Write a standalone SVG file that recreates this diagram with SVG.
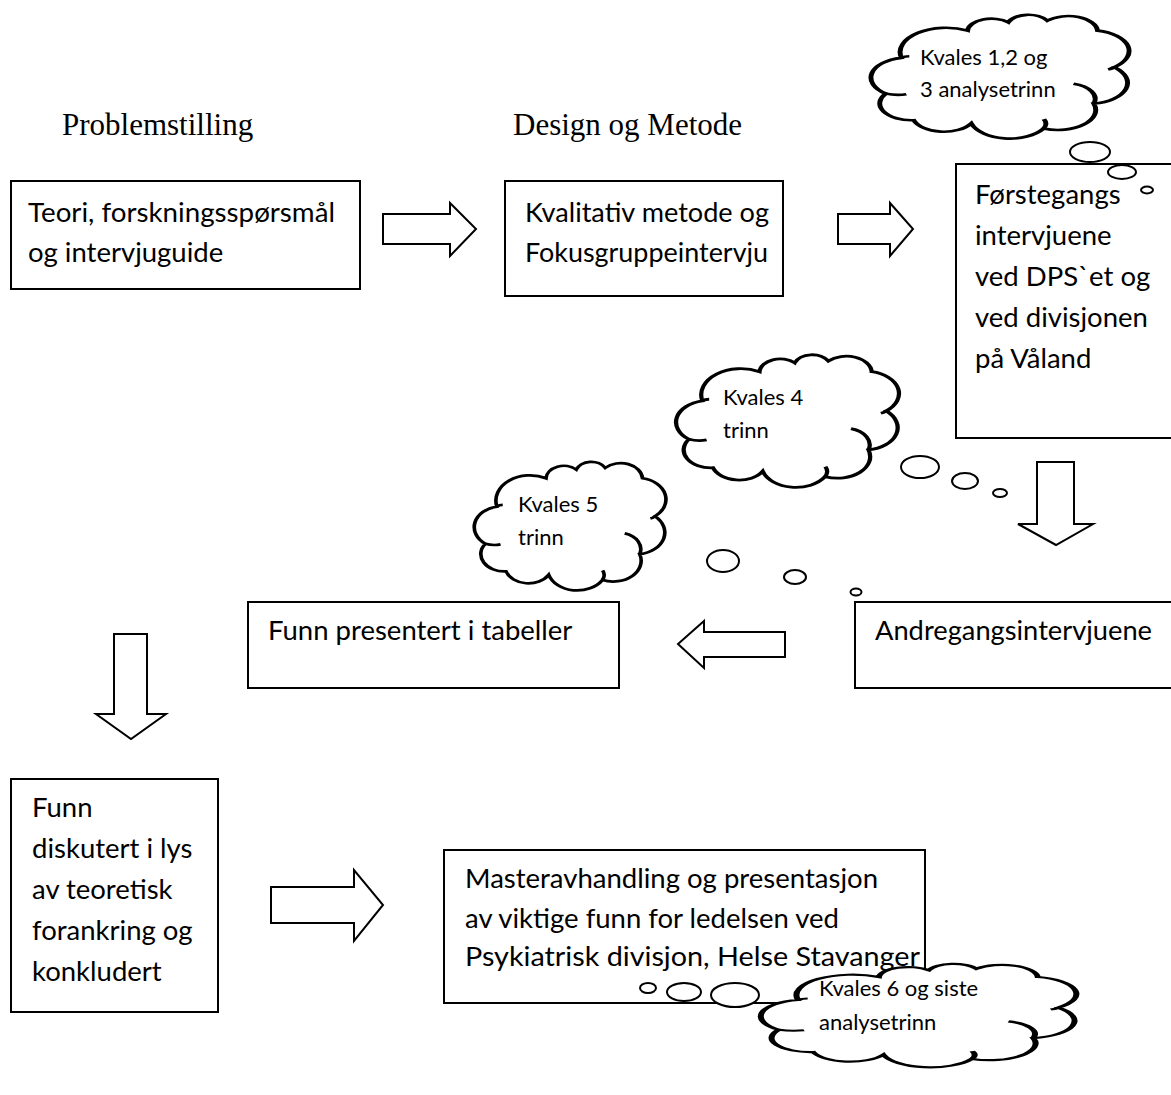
<svg xmlns="http://www.w3.org/2000/svg" width="1171" height="1095" viewBox="0 0 1171 1095">
  <defs>
    <style>
      .box { fill: #fff; stroke: #000; stroke-width: 2; }
      .arrow { fill: #fff; stroke: #000; stroke-width: 2; stroke-linejoin: miter; }
      .cloud { fill: #fff; stroke: #000; stroke-width: 2; }
      .inner { fill: none; stroke: #000; stroke-width: 2; }
      .bubble { fill: #fff; stroke: #000; stroke-width: 2; }
      .t { font-family: Lato, "Open Sans", "Liberation Sans", sans-serif; font-size: 27.5px; fill: #000; }
      .ct { font-family: Lato, "Open Sans", "Liberation Sans", sans-serif; font-size: 22px; fill: #000; }
      .h { font-family: "Liberation Serif", "Times New Roman", serif; font-size: 31px; fill: #000; }
    </style>
    <!-- thought-cloud outline in a 0..100 unit box -->
    <path id="cloudShape" d="M 9.3 34.7 A 18.6 18.6 0 0 1 36.1 13.9 A 9.7 9.7 0 0 1 52.6 7.6 A 8.7 8.7 0 0 1 68.4 6.3 A 11.9 11.9 0 0 1 88.7 13.9 A 15.8 15.8 0 0 1 95.5 41.8 A 16 16 0 0 1 87.2 69.6 A 15.3 15.3 0 0 1 66.9 88.6 A 16.2 16.2 0 0 1 37.6 84.8 A 12.9 12.9 0 0 1 14.3 82.3 A 12.8 12.8 0 0 1 3 62 A 15.4 15.4 0 0 1 9.3 34.7 Z"/>
    <!-- short inner strokes where the cloud lobes meet -->
    <path id="cloudInner" d="M 79 54.4 A 12 12 0 0 1 87.2 69.6 M 3 62 A 14 14 0 0 0 11.3 62.5 M 9.3 34.7 A 5 5 0 0 1 12.5 33.5 M 66.9 88.6 A 8 8 0 0 0 67 81.5 M 95.5 41.8 A 5 5 0 0 1 93 43.5"/>
  </defs>

  <rect width="1171" height="1095" fill="#fff"/>

  <!-- column headings -->
  <text class="h" x="62" y="135">Problemstilling</text>
  <text class="h" x="513" y="135">Design og Metode</text>

  <!-- block arrows between steps -->
  <g id="connectors">
    <polygon class="arrow" points="383,214 450,214 450,203 476,229 450,256 450,244 383,244"/>
    <polygon class="arrow" points="838,214 890,214 890,203 913,229 890,256 890,244 838,244"/>
    <polygon class="arrow" points="1037,462 1074,462 1074,524 1093,524 1056,545 1018,524 1037,524"/>
    <polygon class="arrow" points="785,632 785,657 704,657 704,668 678,644 704,621 704,632"/>
    <polygon class="arrow" points="114,634 147,634 147,714 166,714 131,739 96,714 114,714"/>
    <polygon class="arrow" points="271,887 354,887 354,870 383,905 354,941 354,923 271,923"/>
  </g>

  <g id="node-teori">
    <rect class="box" x="11" y="181" width="349" height="108"/>
    <text class="t" x="28" y="222" textLength="307" lengthAdjust="spacingAndGlyphs">Teori, forskningsspørsmål</text>
    <text class="t" x="28" y="262">og intervjuguide</text>
  </g>

  <g id="node-metode">
    <rect class="box" x="505" y="181" width="278" height="115"/>
    <text class="t" x="525" y="222" textLength="244" lengthAdjust="spacingAndGlyphs">Kvalitativ metode og</text>
    <text class="t" x="525" y="262" textLength="243" lengthAdjust="spacingAndGlyphs">Fokusgruppeintervju</text>
  </g>

  <g id="node-forstegangs">
    <rect class="box" x="956" y="164" width="230" height="274"/>
    <text class="t" x="975" y="204">Førstegangs</text>
    <text class="t" x="975" y="245">intervjuene</text>
    <text class="t" x="975" y="286">ved DPS`et og</text>
    <text class="t" x="975" y="327">ved divisjonen</text>
    <text class="t" x="975" y="368">på Våland</text>
  </g>

  <g id="node-andregangs">
    <rect class="box" x="855" y="602" width="330" height="86"/>
    <text class="t" x="875" y="640" textLength="277" lengthAdjust="spacingAndGlyphs">Andregangsintervjuene</text>
  </g>

  <g id="node-tabeller">
    <rect class="box" x="248" y="602" width="371" height="86"/>
    <text class="t" x="268" y="640">Funn presentert i tabeller</text>
  </g>

  <g id="node-diskutert">
    <rect class="box" x="11" y="779" width="207" height="233"/>
    <text class="t" x="32" y="817">Funn</text>
    <text class="t" x="32" y="858">diskutert i lys</text>
    <text class="t" x="32" y="899">av teoretisk</text>
    <text class="t" x="32" y="940">forankring og</text>
    <text class="t" x="32" y="981">konkludert</text>
  </g>

  <g id="node-master">
    <rect class="box" x="444" y="850" width="481" height="153"/>
    <text class="t" x="465" y="888" textLength="413" lengthAdjust="spacingAndGlyphs">Masteravhandling og presentasjon</text>
    <text class="t" x="465" y="928">av viktige funn for ledelsen ved</text>
    <text class="t" x="465" y="966" textLength="455" lengthAdjust="spacingAndGlyphs">Psykiatrisk divisjon, Helse Stavanger</text>
  </g>

  <!-- thought clouds with their trailing bubbles -->
  <g id="cloud-1-3">
    <ellipse class="bubble" cx="1090" cy="152" rx="20" ry="10"/>
    <ellipse class="bubble" cx="1122" cy="172" rx="14" ry="7"/>
    <ellipse class="bubble" cx="1147" cy="190" rx="6" ry="3.5"/>
    <g transform="translate(878.4,12.4) scale(2.47,1.31)">
      <use href="#cloudShape" class="cloud" vector-effect="non-scaling-stroke"/>
      <use href="#cloudInner" class="inner" vector-effect="non-scaling-stroke"/>
    </g>
    <text class="ct" x="920" y="65">Kvales 1,2 og</text>
    <text class="ct" x="920" y="97">3 analysetrinn</text>
  </g>

  <g id="cloud-4">
    <ellipse class="bubble" cx="920" cy="467" rx="19" ry="11"/>
    <ellipse class="bubble" cx="965" cy="481" rx="13" ry="8"/>
    <ellipse class="bubble" cx="1000" cy="493" rx="7" ry="4"/>
    <g transform="translate(682.5,352.2) scale(2.133,1.404)">
      <use href="#cloudShape" class="cloud" vector-effect="non-scaling-stroke"/>
      <use href="#cloudInner" class="inner" vector-effect="non-scaling-stroke"/>
    </g>
    <text class="ct" x="723" y="405">Kvales 4</text>
    <text class="ct" x="723" y="438">trinn</text>
  </g>

  <g id="cloud-5">
    <ellipse class="bubble" cx="723" cy="561" rx="16" ry="11"/>
    <ellipse class="bubble" cx="795" cy="577" rx="11" ry="7"/>
    <ellipse class="bubble" cx="856" cy="592" rx="5.5" ry="3.5"/>
    <g transform="translate(479.8,459.3) scale(1.834,1.362)">
      <use href="#cloudShape" class="cloud" vector-effect="non-scaling-stroke"/>
      <use href="#cloudInner" class="inner" vector-effect="non-scaling-stroke"/>
    </g>
    <text class="ct" x="518" y="512">Kvales 5</text>
    <text class="ct" x="518" y="545">trinn</text>
  </g>

  <g id="cloud-6">
    <ellipse class="bubble" cx="648" cy="988" rx="8" ry="5"/>
    <ellipse class="bubble" cx="684" cy="992" rx="17" ry="9"/>
    <ellipse class="bubble" cx="735" cy="995" rx="24" ry="12"/>
    <g transform="translate(769.9,961.8) scale(3.02,1.096)">
      <use href="#cloudShape" class="cloud" vector-effect="non-scaling-stroke"/>
      <use href="#cloudInner" class="inner" vector-effect="non-scaling-stroke"/>
    </g>
    <text class="ct" x="819" y="996">Kvales 6 og siste</text>
    <text class="ct" x="819" y="1030">analysetrinn</text>
  </g>
</svg>
